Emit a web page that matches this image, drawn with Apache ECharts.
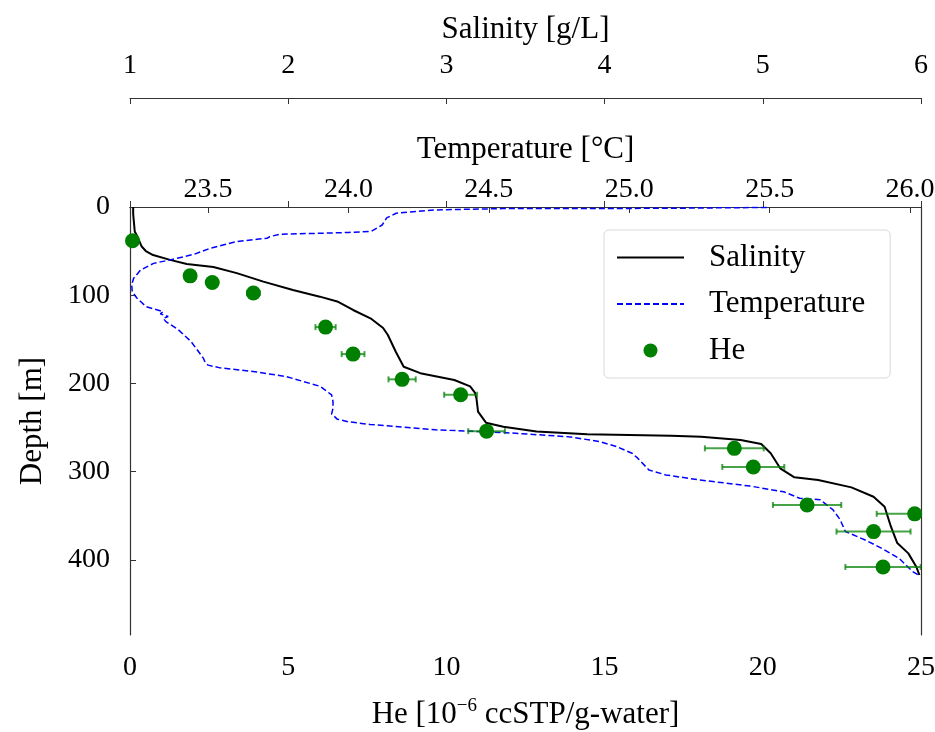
<!DOCTYPE html>
<html><head><meta charset="utf-8">
<script src="https://cdn.jsdelivr.net/npm/echarts@6/dist/echarts.min.js"></script>
<style>html,body{margin:0;padding:0;background:#fff}#c{width:935px;height:732px}</style>
</head><body><div id="c"></div>
<script>
// ---- data ----
const salinityDepth = [0, 7.7, 17.8, 27.8, 32.8, 37.8, 44.8, 49.9, 54.4, 59.9, 64.6, 67.9, 74.9, 84.6, 94, 101.6, 107, 116.7, 126.1, 137.1, 145.1, 164, 181, 188.3, 196, 203.3, 210.3, 216.9, 231.9, 244.4, 249, 254.5, 257.5, 259.1, 260.3, 264, 268.5, 279.1, 296.1, 306.3, 309.3, 317.7, 328.3, 339.7, 362.3, 380.8, 392.5, 407.6, 417];
const salinityValue = [1.02, 1.02, 1.025, 1.03, 1.045, 1.057, 1.074, 1.10, 1.146, 1.253, 1.359, 1.527, 1.675, 1.843, 2.03, 2.2, 2.31, 2.41, 2.52, 2.60, 2.63, 2.68, 2.73, 2.835, 3.05, 3.15, 3.18, 3.19, 3.2, 3.25, 3.36, 3.57, 3.89, 4.42, 4.61, 4.86, 4.99, 5.05, 5.11, 5.2, 5.35, 5.56, 5.70, 5.77, 5.81, 5.85, 5.92, 5.97, 5.99];

const tempDepth = [0.5, 1, 1.5, 1.8, 3.3, 7.1, 12.4, 20.4, 22.3, 27.8, 28.8, 29.8, 30.8, 33.6, 35.4, 36.3, 39.3, 46.8, 53.6, 59.9, 63.9, 71.3, 80.7, 88, 96, 103.4, 113, 118.6, 121.1, 124.1, 126.1, 129.9, 139.1, 152.7, 171.2, 176.2, 179.2, 182.3, 186.3, 192.3, 203.3, 213, 220.4, 228.1, 234.4, 240.4, 243.4, 246.4, 252.5, 255.5, 260.5, 265.9, 271.5, 279.1, 284.6, 298, 303.6, 309.3, 316.2, 322.7, 330.1, 331.7, 343.3, 353.8, 367.8, 377.3, 386.9, 397.9, 413, 417];
const tempValue = [25.49, 25.3, 25.14, 24.55, 24.31, 24.17, 24.136, 24.12, 24.11, 24.08, 24.0, 23.90, 23.756, 23.72, 23.71, 23.68, 23.60, 23.507, 23.45, 23.365, 23.306, 23.26, 23.235, 23.228, 23.23, 23.247, 23.28, 23.34, 23.33, 23.358, 23.34, 23.35, 23.394, 23.44, 23.483, 23.49, 23.50, 23.543, 23.66, 23.78, 23.90, 23.94, 23.945, 23.945, 23.94, 23.96, 24.0, 24.077, 24.31, 24.55, 24.79, 24.895, 24.955, 25.01, 25.03, 25.07, 25.13, 25.25, 25.43, 25.55, 25.607, 25.68, 25.726, 25.75, 25.77, 25.84, 25.90, 25.96, 26.009, 26.03];

const heDepth = [38.3, 78, 85.5, 97.5, 136.1, 166.7, 195.3, 212.8, 254, 273.5, 294.6, 337.7, 347.7, 367.8, 407.9];
const heValue = [0.08, 1.9, 2.6, 3.9, 6.18, 7.05, 8.6, 10.45, 11.27, 19.1, 19.7, 21.4, 24.8, 23.5, 23.8];
const heError = [0.05, 0.1, 0.13, 0.2, 0.32, 0.36, 0.43, 0.52, 0.58, 0.93, 0.98, 1.08, 1.2, 1.17, 1.19];

const heTicks = [0, 5, 10, 15, 20, 25];
const tempTicks = [23.5, 24.0, 24.5, 25.0, 25.5, 26.0];
const salinityTicks = [1, 2, 3, 4, 5, 6];
const depthTicks = [0, 100, 200, 300, 400];

// ---- chart ----
const FF = 'Liberation Serif';
const FS = 28;      // tick labels
const FT = 31;      // titles / legend
const axisColor = '#333';
const chart = echarts.init(document.getElementById('c'), null, {renderer: 'canvas'});

const labelStyle = {color: '#000', fontFamily: FF, fontSize: FS};
const nameStyle = {color: '#000', fontFamily: FF, fontSize: FT};
const hideSym = {color: 'rgba(0,0,0,0)', borderWidth: 0, opacity: 0};

const option = {
  animation: false,
  backgroundColor: '#fff',
  grid: {left: 130, right: 14, top: 207, bottom: 97, containLabel: false, outerBoundsMode: 'none'},
  legend: {
    left: 604, top: 230, orient: 'vertical',
    padding: [12, 25, 12, 12],
    itemWidth: 67, itemHeight: 14, itemGap: 15.5,
    backgroundColor: '#fff', borderColor: '#d9d9d9', borderWidth: 1, borderRadius: 5,
    textStyle: {fontFamily: FF, fontSize: FT, color: '#000', padding: [0, 0, 0, 20]},
    data: [
      {name: 'Salinity', itemStyle: hideSym},
      {name: 'Temperature', itemStyle: hideSym},
      {name: 'He'}
    ]
  },
  xAxis: [
    {
      type: 'value', position: 'bottom', min: heTicks[0], max: heTicks[heTicks.length - 1], interval: 5,
      name: '{a|He [10}{s|−6}{a| ccSTP/g-water]}', nameLocation: 'middle', nameGap: 62,
      nameTextStyle: {rich: {a: {fontFamily: FF, fontSize: FT, color: '#000', lineHeight: 36}, s: {fontFamily: FF, fontSize: 19, color: '#000', verticalAlign: 'top', lineHeight: 36, padding: [0, 0, 13, 0]}}},
      axisLine: {show: true, lineStyle: {color: axisColor, width: 1.2}},
      axisTick: {show: true, inside: true, length: 6, lineStyle: {color: axisColor}},
      axisLabel: Object.assign({margin: 19, customValues: heTicks}, labelStyle),
      splitLine: {show: false}
    },
    {
      type: 'value', position: 'top', min: 23.222, max: 26.039,
      name: 'Temperature [°C]', nameLocation: 'middle', nameGap: 42, nameTextStyle: nameStyle,
      axisLine: {show: true, lineStyle: {color: axisColor, width: 1.2}},
      axisTick: {show: true, inside: true, length: 6, customValues: tempTicks, lineStyle: {color: axisColor}},
      axisLabel: Object.assign({margin: 3, customValues: tempTicks, formatter: v => Number(v).toFixed(1)}, labelStyle),
      splitLine: {show: false}
    },
    {
      type: 'value', position: 'top', offset: 109, min: 1, max: 6, interval: 1,
      name: 'Salinity [g/L]', nameLocation: 'middle', nameGap: 53, nameTextStyle: nameStyle,
      axisLine: {show: true, lineStyle: {color: axisColor, width: 1.2}},
      axisTick: {show: true, inside: true, length: 6, customValues: salinityTicks, lineStyle: {color: axisColor}},
      axisLabel: Object.assign({margin: 18, customValues: salinityTicks}, labelStyle),
      splitLine: {show: false}
    }
  ],
  yAxis: [
    {
      type: 'value', inverse: true, min: 0, max: 485, position: 'left',
      name: 'Depth [m]', nameLocation: 'middle', nameGap: 82, nameRotate: 90, nameTextStyle: nameStyle,
      axisLine: {show: true, lineStyle: {color: axisColor, width: 1.2}},
      axisTick: {show: true, inside: true, length: 6, customValues: depthTicks, lineStyle: {color: axisColor}},
      axisLabel: Object.assign({margin: 20, customValues: depthTicks}, labelStyle),
      splitLine: {show: false}
    },
    {
      type: 'value', inverse: true, min: 0, max: 485, position: 'right',
      axisLine: {show: true, lineStyle: {color: axisColor, width: 1.2}},
      axisTick: {show: false}, axisLabel: {show: false}, splitLine: {show: false}
    }
  ],
  series: [
    {
      name: 'Salinity', type: 'line', xAxisIndex: 2, yAxisIndex: 0,
      data: salinityValue.map((s, i) => [s, salinityDepth[i]]),
      symbol: 'none', showSymbol: false, smooth: false,
      lineStyle: {color: '#000', width: 2}, itemStyle: {color: '#000'}, z: 2
    },
    {
      name: 'Temperature', type: 'line', xAxisIndex: 1, yAxisIndex: 0,
      data: tempValue.map((t, i) => [t, tempDepth[i]]),
      symbol: 'none', showSymbol: false,
      lineStyle: {color: '#0000ff', width: 1.5, type: [6, 3]}, itemStyle: {color: '#0000ff'}, z: 2
    },
    {
      name: 'HeErr', type: 'custom', xAxisIndex: 0, yAxisIndex: 0, clip: true,
      data: heValue.map((v, i) => [v - heError[i], v + heError[i], heDepth[i]]),
      encode: {x: [0, 1], y: 2},
      renderItem: function (params, api) {
        const lo = api.coord([api.value(0), api.value(2)]);
        const hi = api.coord([api.value(1), api.value(2)]);
        const c = 3;
        const style = {stroke: 'rgba(0,128,0,0.72)', lineWidth: 2};
        return {type: 'group', children: [
          {type: 'line', shape: {x1: lo[0], y1: lo[1], x2: hi[0], y2: hi[1]}, style: style},
          {type: 'line', shape: {x1: lo[0], y1: lo[1] - c, x2: lo[0], y2: lo[1] + c}, style: style},
          {type: 'line', shape: {x1: hi[0], y1: hi[1] - c, x2: hi[0], y2: hi[1] + c}, style: style}
        ]};
      },
      z: 3
    },
    {
      name: 'He', type: 'scatter', xAxisIndex: 0, yAxisIndex: 0,
      data: heValue.map((v, i) => [v, heDepth[i]]),
      symbol: 'circle', symbolSize: 15, itemStyle: {color: '#008000', opacity: 1}, z: 4
    }
  ]
};
chart.setOption(option);
</script>
</body></html>
